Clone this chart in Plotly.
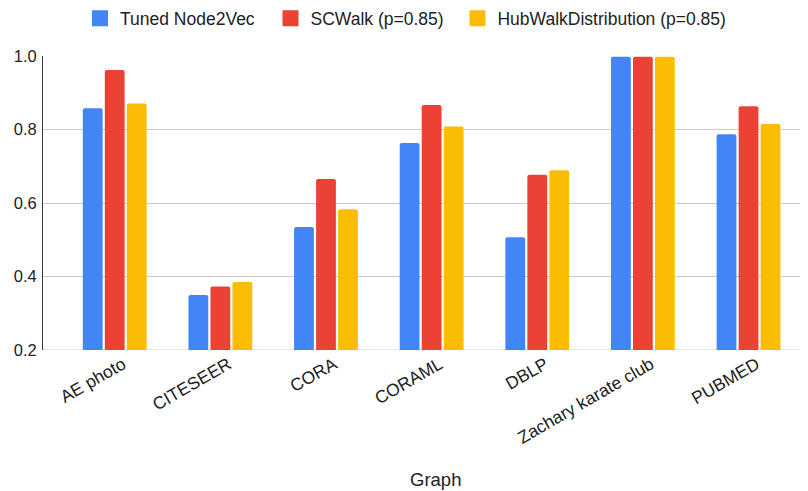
import plotly.graph_objects as go

categories = ["AE photo", "CITESEER", "CORA", "CORAML", "DBLP", "Zachary karate club", "PUBMED"]
node2vec = [0.858, 0.350, 0.535, 0.763, 0.507, 0.998, 0.787]
scwalk = [0.962, 0.373, 0.665, 0.867, 0.677, 0.998, 0.863]
hubwalk = [0.871, 0.385, 0.583, 0.808, 0.689, 0.998, 0.815]
series_names = ["Tuned Node2Vec", "SCWalk (p=0.85)", "HubWalkDistribution (p=0.85)"]
colors = ["#4285F4", "#EA4335", "#FBBC04"]
y_ticks = [0.2, 0.4, 0.6, 0.8, 1.0]
x_title = "Graph"

legend_ids = ["legend", "legend2", "legend3"]
legend_x = [0.0484, 0.2974, 0.5418]

fig = go.Figure()
for name, vals, col, lid in zip(series_names, [node2vec, scwalk, hubwalk], colors, legend_ids):
    fig.add_trace(go.Bar(x=categories, y=vals, name=name, marker_color=col,
                         marker_line_width=0, showlegend=False))
    # legend-only entry with a larger square swatch
    fig.add_trace(go.Scatter(x=[None], y=[None], mode="markers", name=name,
                             marker=dict(symbol="square", size=16, color=col, line_width=0),
                             legend=lid, showlegend=True, hoverinfo="skip"))

font_family = "Arial, Liberation Sans, sans-serif"
legend_font = dict(family=font_family, size=17.5, color="#222222")
legends = {}
for lid, lx in zip(legend_ids, legend_x):
    legends[lid] = dict(orientation="h", x=lx, xanchor="left", y=1.1276, yanchor="middle",
                        font=legend_font, itemwidth=30, bgcolor="rgba(0,0,0,0)",
                        borderwidth=0)

# page body has an 8px margin, so the figure is 800x483 placed at (8,8)
fig.update_layout(
    width=800, height=483,
    margin=dict(l=35, r=0, t=48, b=141, autoexpand=False),
    paper_bgcolor="white", plot_bgcolor="white",
    barmode="group", bargap=0.375, bargroupgap=0.1,
    barcornerradius=2,
    font=dict(family=font_family, size=17, color="#222222"),
    xaxis=dict(
        range=[-0.679, 6.563],
        tickangle=-30,
        tickfont=dict(size=17.5, color="#222222"),
        ticklabelshift=8,
        showgrid=False, showline=False, ticks="",
        automargin=False,
    ),
    yaxis=dict(
        range=[0.2, 1.0],
        tickvals=y_ticks,
        ticktext=[f"{v:.1f}" for v in y_ticks],
        tickfont=dict(size=16.5, color="#222222"),
        showgrid=True, gridcolor="#cccccc", gridwidth=1,
        showline=True, linecolor="#333333", linewidth=1,
        zeroline=False, ticks="", ticklabelstandoff=2,
        automargin=False,
    ),
    **legends,
)
fig.add_shape(type="line", xref="paper", yref="y", x0=0, x1=1, y0=0.2, y1=0.2,
              line=dict(color="#cccccc", width=1), layer="below")
fig.add_annotation(text=x_title, xref="paper", yref="paper", x=0.513, y=-0.440,
                   xanchor="center", yanchor="middle", showarrow=False,
                   font=dict(family=font_family, size=18.5, color="#222222"))

fig.write_html("out.html")
